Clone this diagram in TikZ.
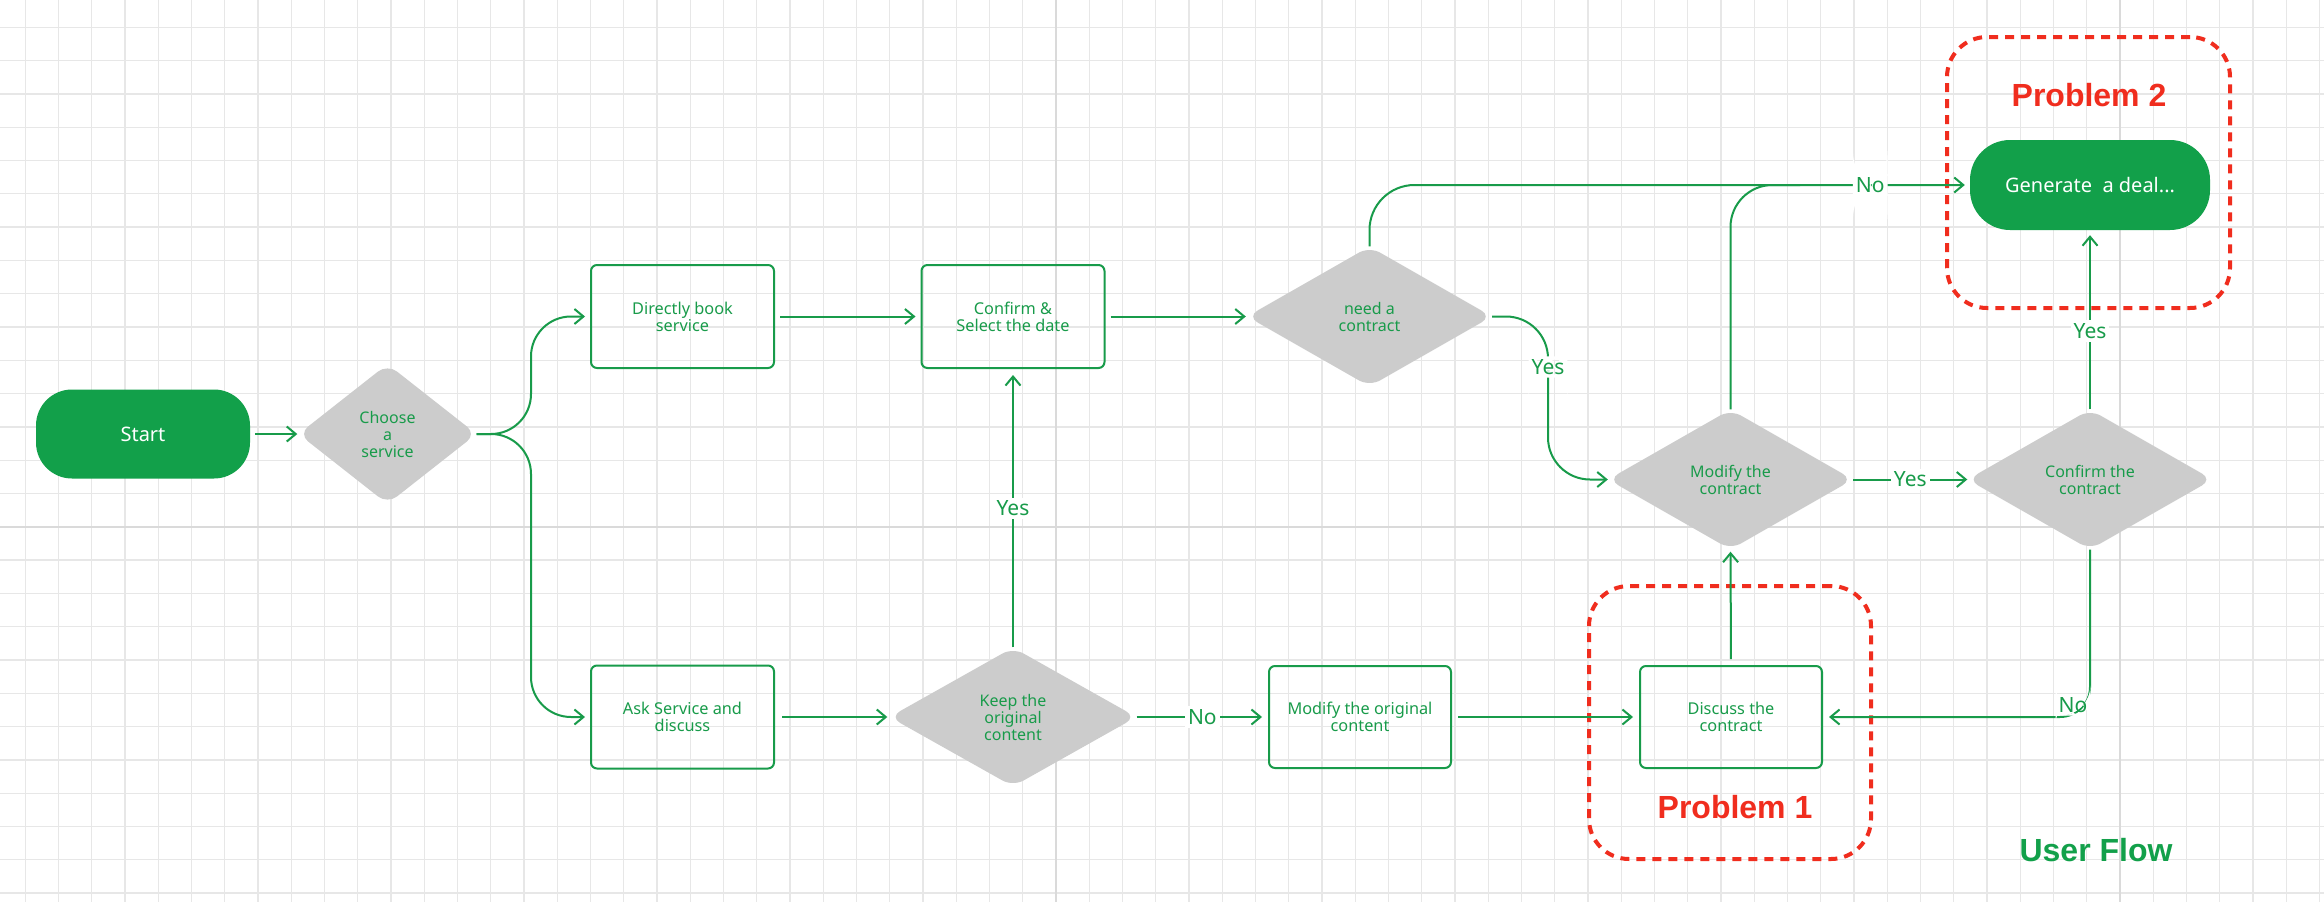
\documentclass[tikz,border=0pt]{standalone}
\usepackage{fontspec}
\setmainfont{Noto Sans}
\newfontfamily\titlefont{Liberation Sans}
\usetikzlibrary{shapes.geometric,arrows.meta}
\definecolor{grn}{RGB}{18,160,74}
\definecolor{tgrn}{RGB}{24,155,74}
\definecolor{dgray}{RGB}{204,204,204}
\definecolor{pred}{RGB}{240,45,30}
\definecolor{gridc}{RGB}{231,231,231}
\definecolor{gridd}{RGB}{218,218,218}
\begin{document}
\begin{tikzpicture}[x=1pt,y=-1pt,
  term/.style={fill=grn, rounded corners=36pt, text=white, font=\fontsize{20}{24}\selectfont, inner sep=0pt, minimum width=214pt, minimum height=89pt},
  box/.style={draw=tgrn, line width=2pt, rounded corners=6pt, text=tgrn, font=\fontsize{16.3}{17}\selectfont, align=center, inner sep=0pt, minimum width=182pt, minimum height=102pt},
  dec/.style={diamond, fill=dgray, rounded corners=12pt, text=tgrn, font=\fontsize{16}{17}\selectfont, align=center, inner sep=0pt, minimum width=245pt, minimum height=140pt},
  link/.style={draw=tgrn, line width=2pt},
  flow/.style={link, -{Straight Barb[length=9pt,width=15pt]}},
  lbl/.style={fill=white, text=tgrn, font=\fontsize{21}{24}\selectfont, inner sep=3pt},
  prob/.style={draw=pred, line width=4pt, dash pattern=on 9pt off 7pt, rounded corners=40pt, inner sep=0pt},
  ptitle/.style={text=pred, font=\titlefont\bfseries\fontsize{32}{36}\selectfont, anchor=base},
]
\useasboundingbox (0,0) rectangle (2324,902);
\fill[white] (0,0) rectangle (2324,902);
% grid
\foreach \i in {0,...,69} {\draw[gridc, line width=1.3pt] ({25.3+33.25*\i},0) -- ({25.3+33.25*\i},902);}
\foreach \j in {0,...,26} {\draw[gridc, line width=1.3pt] (0,{27.3+33.3*\j}) -- (2324,{27.3+33.3*\j});}
\foreach \i in {31,63} {\draw[gridd, line width=2pt] ({25.3+33.25*\i},0) -- ({25.3+33.25*\i},902);}
\draw[gridd, line width=2pt] (0,{27.3+33.3*15}) -- (2324,{27.3+33.3*15});

% problem frames
\node[prob, minimum width=283pt, minimum height=271pt] (p2) at (2088.5,172.5) {};
\node[prob, minimum width=282pt, minimum height=273pt] (p1) at (1730,722.5) {};
\node[ptitle] (t2) at (2089,106.7) {Problem 2};
\node[ptitle] (t1) at (1735,818.3) {Problem 1};
\node[ptitle, text=grn] (uf) at (2096,861.7) {User Flow};

% nodes
\node[term] (start) at (143,434) {Start};
\node[dec, minimum width=178pt, minimum height=140pt] (choose) at (387.5,434) {Choose\\a\\service};
\node[box, minimum width=183pt, minimum height=103pt] (direct) at (682.5,316.5) {Directly book\\service};
\node[box, minimum width=183pt, minimum height=103pt] (confirm) at (1013,316.5) {Confirm \&\\Select the date};
\node[dec] (need) at (1369.5,316.5) {need a\\contract};
\node[box, minimum width=183pt, minimum height=103pt] (ask) at (682.5,717) {Ask Service and\\discuss};
\node[dec, minimum width=247pt, minimum height=139pt] (keep) at (1013,717) {Keep the\\original\\content};
\node[box] (modorig) at (1360,717) {Modify the original\\content};
\node[box] (discuss) at (1731,717) {Discuss the\\contract};
\node[dec] (modc) at (1730.5,479.5) {Modify the\\contract};
\node[dec] (confc) at (2090,479.5) {Confirm the\\contract};
\node[term, minimum width=240pt, minimum height=90pt, rounded corners=40pt] (gen) at (2090,185) {Generate~ a deal...};

% connectors
\coordinate (sp) at (531,434);
\coordinate (jn) at (1800,185);
\coordinate (yb) at (1548,479.5);
\draw[flow, shorten <=5pt, shorten >=1pt] (start.east) -- (choose.west);
\draw[flow, rounded corners=40pt, shorten >=5pt] (choose.east) -- (sp) |- (direct.west);
\draw[flow, rounded corners=40pt, shorten >=5pt] (choose.east) -- (sp) |- (ask.west);
\draw[flow, shorten <=5pt, shorten >=5pt] (direct.east) -- (confirm.west);
\draw[flow, shorten <=5pt, shorten >=1pt] (confirm.east) -- (need.west);
\draw[link, rounded corners=42pt] (modc.north) |- (jn);
\draw[flow, rounded corners=45pt, shorten >=5pt] (need.north) |- node[lbl, pos=0.917] {No} (gen.west);
\draw[flow, rounded corners=42pt] (need.east) -| node[lbl, pos=0.655] {Yes} (yb) -- (modc.west);
\draw[flow] (modc.east) -- node[lbl] {Yes} (confc.west);
\draw[flow, shorten >=5pt] (confc.north) -- node[lbl, pos=0.437] {Yes} (gen.south);
\draw[flow, rounded corners=30pt, shorten >=6pt] (confc.south) |- node[lbl, pos=0.5, xshift=-17pt, yshift=12pt] {No} (discuss.east);
\draw[flow, shorten <=6pt, shorten >=2pt] (discuss.north) -- (modc.south);
\draw[flow, shorten <=6pt, shorten >=6pt] (modorig.east) -- (discuss.west);
\draw[flow, shorten <=7pt, shorten >=2pt] (ask.east) -- (keep.west);
\draw[flow, shorten >=6pt] (keep.east) -- node[lbl] {No} (modorig.west);
\draw[flow, shorten >=6pt] (keep.north) -- node[lbl] {Yes} (confirm.south);
\end{tikzpicture}
\end{document}
